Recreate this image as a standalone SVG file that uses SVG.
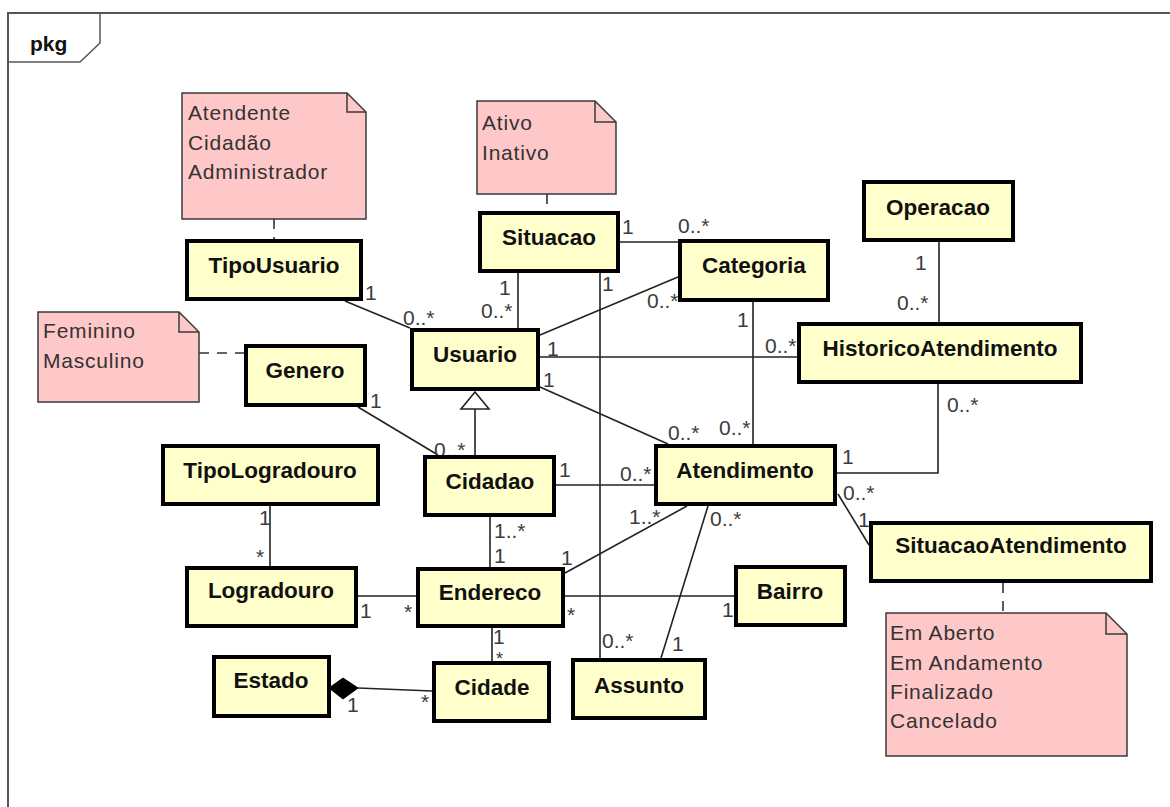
<svg xmlns="http://www.w3.org/2000/svg" width="1170" height="807" viewBox="0 0 1170 807">
  <style>
    .frame { fill: #ffffff; stroke: #555555; stroke-width: 2; }
    .tab { fill: none; stroke: #555555; stroke-width: 1.5; }
    .cls { fill: #ffffcc; stroke: #000000; stroke-width: 4; }
    .cname { font-family: "Liberation Sans", Arial, sans-serif; font-weight: bold; font-size: 22.5px; fill: #111111; text-anchor: middle; }
    .note { fill: #ffc8c8; stroke: #3a3a3a; stroke-width: 1.5; }
    .fold { fill: none; stroke: #3a3a3a; stroke-width: 1.5; }
    .ntext { font-family: "Liberation Sans", Arial, sans-serif; font-size: 21px; letter-spacing: 0.8px; fill: #333333; }
    .link { fill: none; stroke: #222222; stroke-width: 1.6; }
    .anchor { fill: none; stroke: #333333; stroke-width: 1.6; stroke-dasharray: 10 8; }
    .mult { font-family: "Liberation Sans", Arial, sans-serif; font-size: 21px; fill: #3c3c3c; }
    .small { font-size: 18px; }
  </style>

  <!-- package frame -->
  <rect class="frame" x="8" y="13" width="1175" height="810"/>
  <path class="tab" d="M8,62 H80 L100,43 V13"/>
  <text x="30" y="51" style="font-family:'Liberation Sans',Arial,sans-serif;font-weight:bold;font-size:21px;fill:#111">pkg</text>

  <!-- associations -->
  <g id="connectors">
    <line class="link" x1="345" y1="301" x2="410" y2="328"/>
    <line class="link" x1="518" y1="273" x2="518" y2="328"/>
    <line class="link" x1="620" y1="242" x2="678" y2="242"/>
    <line class="link" x1="600" y1="273" x2="600" y2="658"/>
    <line class="link" x1="678" y1="277" x2="540" y2="335"/>
    <line class="link" x1="540" y1="357" x2="797" y2="357"/>
    <line class="link" x1="540" y1="387" x2="668" y2="444"/>
    <line class="link" x1="753" y1="302" x2="753" y2="444"/>
    <line class="link" x1="939" y1="242" x2="939" y2="322"/>
    <polyline class="link" points="938,384 938,473 837,473"/>
    <line class="link" x1="838" y1="494" x2="869" y2="545"/>
    <line class="link" x1="358" y1="407" x2="438" y2="455"/>
    <line class="link" x1="556" y1="485" x2="654" y2="485"/>
    <line class="link" x1="490" y1="517" x2="490" y2="567"/>
    <line class="link" x1="565" y1="573" x2="687" y2="506"/>
    <line class="link" x1="708" y1="506" x2="661" y2="658"/>
    <line class="link" x1="565" y1="596" x2="734" y2="596"/>
    <line class="link" x1="358" y1="596" x2="416" y2="596"/>
    <line class="link" x1="270" y1="506" x2="270" y2="566"/>
    <line class="link" x1="492" y1="628" x2="492" y2="661"/>
    <line class="link" x1="358" y1="688" x2="432" y2="691"/>
    <!-- Cidadao generalizes Usuario -->
    <line class="link" x1="475" y1="455" x2="475" y2="409"/>
    <polygon points="475,392 461,409 489,409" fill="#ffffff" stroke="#222222" stroke-width="1.6"/>
    <!-- Estado composes Cidade -->
    <polygon points="329,688 343,678 358,688 343,699" fill="#000000" stroke="#000000" stroke-width="1"/>
    <!-- note anchors -->
    <line class="anchor" x1="274" y1="219" x2="274" y2="239"/>
    <line class="anchor" x1="547" y1="194" x2="547" y2="211"/>
    <line class="anchor" x1="199" y1="353" x2="244" y2="353"/>
    <line class="anchor" x1="1003" y1="583" x2="1003" y2="613"/>
  </g>

  <!-- multiplicities -->
  <g id="multiplicities">
    <text class="mult" x="365" y="300">1</text>
    <text class="mult" x="403" y="325">0..*</text>
    <text class="mult" x="499" y="295">1</text>
    <text class="mult" x="481" y="318">0..*</text>
    <text class="mult" x="622" y="234">1</text>
    <text class="mult" x="678" y="233">0..*</text>
    <text class="mult" x="602" y="291">1</text>
    <text class="mult" x="647" y="308">0..*</text>
    <text class="mult" x="547" y="356">1</text>
    <text class="mult" x="543" y="387">1</text>
    <text class="mult" x="765" y="353">0..*</text>
    <text class="mult" x="737" y="327">1</text>
    <text class="mult" x="719" y="435">0..*</text>
    <text class="mult" x="668" y="440">0..*</text>
    <text class="mult" x="915" y="270">1</text>
    <text class="mult" x="897" y="310">0..*</text>
    <text class="mult" x="947" y="412">0..*</text>
    <text class="mult" x="842" y="464">1</text>
    <text class="mult" x="843" y="500">0..*</text>
    <text class="mult" x="858" y="527">1</text>
    <text class="mult" x="370" y="408">1</text>
    <text class="mult" x="434" y="457">0..*</text>
    <text class="mult" x="559" y="477">1</text>
    <text class="mult" x="620" y="481">0..*</text>
    <text class="mult" x="494" y="538">1..*</text>
    <text class="mult" x="494" y="563">1</text>
    <text class="mult" x="629" y="524">1..*</text>
    <text class="mult" x="561" y="565">1</text>
    <text class="mult" x="710" y="526">0..*</text>
    <text class="mult" x="672" y="651">1</text>
    <text class="mult" x="602" y="648">0..*</text>
    <text class="mult" x="567" y="622">*</text>
    <text class="mult" x="722" y="617">1</text>
    <text class="mult" x="360" y="618">1</text>
    <text class="mult" x="404" y="619">*</text>
    <text class="mult" x="259" y="525">1</text>
    <text class="mult" x="256" y="564">*</text>
    <text class="mult" x="493" y="644">1</text>
    <text class="mult small" x="496" y="665">*</text>
    <text class="mult" x="347" y="712">1</text>
    <text class="mult" x="421" y="709">*</text>
  </g>

  <!-- notes -->
  <g id="note-tipousuario">
    <path class="note" d="M182,93 H347 L366,112 V219 H182 Z"/>
    <path class="fold" d="M347,93 V112 H366"/>
    <text class="ntext" x="188" y="120">Atendente</text>
    <text class="ntext" x="188" y="150">Cidadão</text>
    <text class="ntext" x="188" y="179">Administrador</text>
  </g>
  <g id="note-situacao">
    <path class="note" d="M477,101 H595 L616,122 V194 H477 Z"/>
    <path class="fold" d="M595,101 V122 H616"/>
    <text class="ntext" x="482" y="130">Ativo</text>
    <text class="ntext" x="482" y="160">Inativo</text>
  </g>
  <g id="note-genero">
    <path class="note" d="M38,312 H179 L199,332 V402 H38 Z"/>
    <path class="fold" d="M179,312 V332 H199"/>
    <text class="ntext" x="43" y="338">Feminino</text>
    <text class="ntext" x="43" y="368">Masculino</text>
  </g>
  <g id="note-situacaoatendimento">
    <path class="note" d="M886,613 H1106 L1127,634 V756 H886 Z"/>
    <path class="fold" d="M1106,613 V634 H1127"/>
    <text class="ntext" x="890" y="640">Em Aberto</text>
    <text class="ntext" x="890" y="670">Em Andamento</text>
    <text class="ntext" x="890" y="699">Finalizado</text>
    <text class="ntext" x="890" y="728">Cancelado</text>
  </g>

  <!-- classes -->
  <g id="TipoUsuario"><rect class="cls" x="187" y="241" width="174" height="58"/><text class="cname" x="274" y="273">TipoUsuario</text></g>
  <g id="Situacao"><rect class="cls" x="480" y="213" width="138" height="58"/><text class="cname" x="549" y="245">Situacao</text></g>
  <g id="Categoria"><rect class="cls" x="680" y="241" width="148" height="59"/><text class="cname" x="754" y="273">Categoria</text></g>
  <g id="Operacao"><rect class="cls" x="864" y="182" width="149" height="58"/><text class="cname" x="938" y="215">Operacao</text></g>
  <g id="Usuario"><rect class="cls" x="412" y="330" width="126" height="59"/><text class="cname" x="475" y="362">Usuario</text></g>
  <g id="HistoricoAtendimento"><rect class="cls" x="799" y="324" width="282" height="58"/><text class="cname" x="940" y="356">HistoricoAtendimento</text></g>
  <g id="Genero"><rect class="cls" x="246" y="346" width="119" height="59"/><text class="cname" x="305" y="378">Genero</text></g>
  <g id="TipoLogradouro"><rect class="cls" x="163" y="446" width="215" height="58"/><text class="cname" x="270" y="478">TipoLogradouro</text></g>
  <g id="Cidadao"><rect class="cls" x="425" y="457" width="129" height="58"/><text class="cname" x="490" y="489">Cidadao</text></g>
  <g id="Atendimento"><rect class="cls" x="656" y="446" width="179" height="58"/><text class="cname" x="745" y="478">Atendimento</text></g>
  <g id="SituacaoAtendimento"><rect class="cls" x="871" y="523" width="280" height="58"/><text class="cname" x="1011" y="553">SituacaoAtendimento</text></g>
  <g id="Logradouro"><rect class="cls" x="187" y="568" width="169" height="58"/><text class="cname" x="271" y="598">Logradouro</text></g>
  <g id="Endereco"><rect class="cls" x="418" y="569" width="145" height="57"/><text class="cname" x="490" y="600">Endereco</text></g>
  <g id="Bairro"><rect class="cls" x="736" y="567" width="109" height="58"/><text class="cname" x="790" y="599">Bairro</text></g>
  <g id="Estado"><rect class="cls" x="214" y="657" width="115" height="59"/><text class="cname" x="271" y="688">Estado</text></g>
  <g id="Cidade"><rect class="cls" x="434" y="663" width="115" height="58"/><text class="cname" x="492" y="695">Cidade</text></g>
  <g id="Assunto"><rect class="cls" x="573" y="660" width="132" height="58"/><text class="cname" x="639" y="693">Assunto</text></g>
</svg>
